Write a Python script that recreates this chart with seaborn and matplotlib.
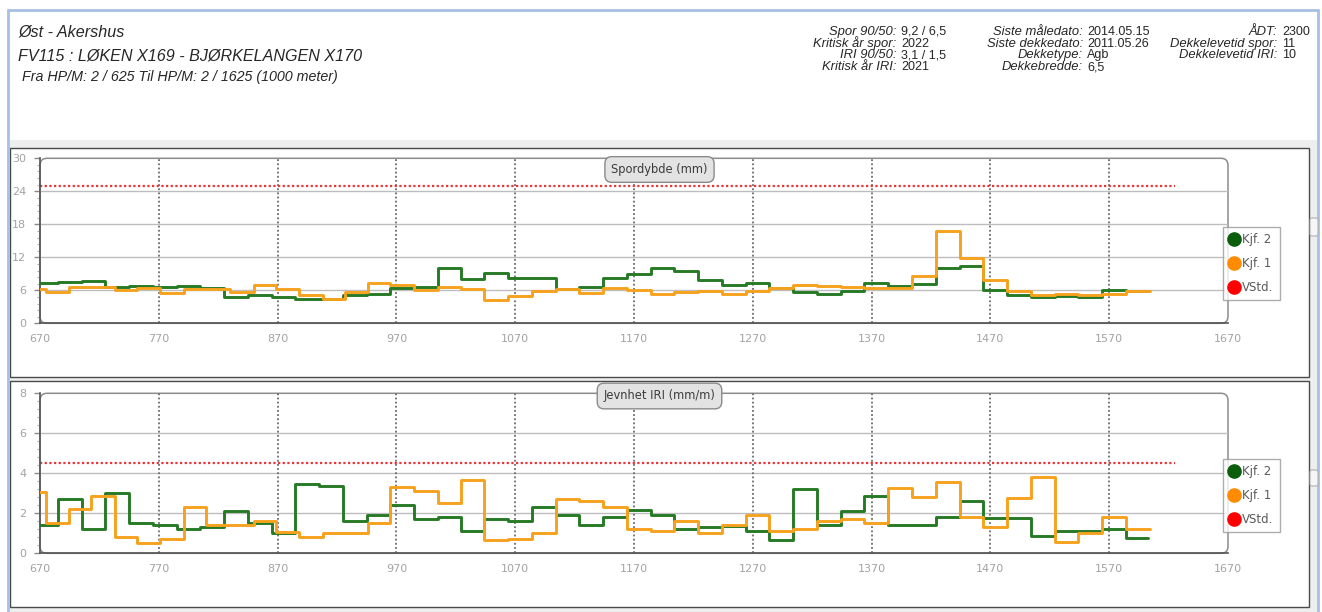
import numpy as np
import pandas as pd
import matplotlib
matplotlib.use("Agg")
import matplotlib.pyplot as plt
from matplotlib.patches import FancyBboxPatch, Rectangle
from matplotlib.lines import Line2D
from matplotlib.ticker import AutoMinorLocator, FixedLocator
import seaborn as sns

# ---------------------------------------------------------------- data
# start position (m) of each measured segment, per run, and where the run ends
pos_kjf2 = [670, 685, 705, 725, 745, 765, 785, 805, 825, 845, 865, 885, 905, 925,
            945, 965, 985, 1005, 1024, 1044, 1064, 1084, 1104, 1124, 1144, 1164,
            1184, 1204, 1224, 1244, 1264, 1284, 1304, 1324, 1344, 1364, 1384, 1404,
            1424, 1444, 1464, 1484, 1504, 1524, 1544, 1564, 1584]
end_kjf2 = 1603
pos_kjf1 = [670, 675, 694, 713, 733, 752, 771, 791, 810, 830, 850, 869, 888, 908,
            927, 946, 965, 985, 1005, 1024, 1044, 1064, 1084, 1104, 1124, 1144,
            1164, 1184, 1204, 1224, 1244, 1264, 1284, 1304, 1324, 1344, 1364, 1384,
            1404, 1424, 1444, 1464, 1484, 1504, 1524, 1544, 1564, 1584]
end_kjf1 = 1604

# rut depth (mm)
spor_kjf2 = [7.33, 7.55, 7.72, 6.65, 6.8, 6.6, 6.8, 6.4, 4.85, 5.12, 4.85, 4.33, 4.5,
             5.12, 5.35, 6.38, 6.55, 10.1, 8.08, 9.12, 8.28, 8.28, 6.2, 6.6, 8.28, 9.03,
             10.0, 9.45, 7.85, 6.88, 7.35, 6.4, 5.75, 5.35, 5.88, 7.3, 6.7, 7.2, 9.98,
             10.4, 6.1, 5.18, 4.82, 5.0, 4.82, 6.0, 5.8]
spor_kjf1 = [6.25, 5.76, 6.6, 6.6, 6.05, 6.35, 5.45, 6.3, 6.3, 5.76, 6.95, 6.25, 5.15,
             4.35, 5.75, 7.3, 7.0, 6.05, 6.6, 6.2, 4.25, 5.0, 5.85, 6.25, 5.6, 6.35,
             6.05, 5.35, 5.65, 5.85, 5.3, 5.9, 6.45, 7.0, 6.85, 6.65, 6.35, 6.5, 8.55,
             16.7, 11.9, 7.9, 5.85, 5.15, 5.35, 5.1, 5.3, 5.9]

# roughness IRI (mm/m)
iri_kjf2 = [1.4, 2.73, 1.2, 3.04, 1.52, 1.4, 1.2, 1.3, 2.12, 1.52, 1.0, 3.45, 3.35,
            1.6, 1.92, 2.44, 1.72, 1.82, 1.11, 1.72, 1.62, 2.32, 1.92, 1.41, 1.82,
            2.15, 1.9, 1.23, 1.33, 1.36, 1.11, 0.65, 3.23, 1.41, 2.12, 2.86, 1.42,
            1.42, 1.83, 2.63, 1.75, 1.75, 0.88, 1.12, 1.12, 1.23, 0.75]
iri_kjf1 = [3.05, 1.5, 2.2, 2.85, 0.82, 0.52, 0.73, 2.3, 1.4, 1.4, 1.6, 1.08, 0.82,
            1.0, 1.0, 1.5, 3.33, 3.12, 2.52, 3.65, 0.65, 0.73, 1.0, 2.74, 2.62, 2.32,
            1.2, 1.11, 1.62, 1.0, 1.41, 1.92, 1.11, 1.23, 1.62, 1.74, 1.53, 3.25,
            2.83, 3.55, 1.83, 1.33, 2.75, 3.83, 0.55, 1.0, 1.83, 1.23]

# threshold values (VStd.) and the stretch they cover
vstd_spor = 25.0
vstd_iri = 4.5
vstd_span = [670, 1625]

x_ticks = [670, 770, 870, 970, 1070, 1170, 1270, 1370, 1470, 1570, 1670]
spor_ticks = [0, 6, 12, 18, 24, 30]
iri_ticks = [0, 2, 4, 6, 8]

runs = ["Kjf. 2", "Kjf. 1"]
run_colors = {"Kjf. 2": "#267a26", "Kjf. 1": "#f6a21e"}
legend_colors = {"Kjf. 2": "#0b5e0b", "Kjf. 1": "#ff8c00", "VStd.": "#ff0000"}

header_left = ["Øst - Akershus",
               "FV115 : LØKEN X169 - BJØRKELANGEN X170",
               "Fra HP/M: 2 / 625 Til HP/M: 2 / 1625 (1000 meter)"]
info_col1 = [("Spor 90/50:", "9,2 / 6,5"), ("Kritisk år spor:", "2022"),
             ("IRI 90/50:", "3,1 / 1,5"), ("Kritisk år IRI:", "2021")]
info_col2 = [("Siste måledato:", "2014.05.15"), ("Siste dekkedato:", "2011.05.26"),
             ("Dekketype:", "Agb"), ("Dekkebredde:", "6,5")]
info_col3 = [("ÅDT:", "2300"), ("Dekkelevetid spor:", "11"),
             ("Dekkelevetid IRI:", "10")]


def step_frame(pos, end, values, run):
    return pd.DataFrame({"pos": list(pos) + [end],
                         "value": list(values) + [values[-1]],
                         "run": run})


spor_df = pd.concat([step_frame(pos_kjf2, end_kjf2, spor_kjf2, "Kjf. 2"),
                     step_frame(pos_kjf1, end_kjf1, spor_kjf1, "Kjf. 1")])
iri_df = pd.concat([step_frame(pos_kjf2, end_kjf2, iri_kjf2, "Kjf. 2"),
                    step_frame(pos_kjf1, end_kjf1, iri_kjf1, "Kjf. 1")])

# ---------------------------------------------------------------- figure
sns.set_style("white")
W, H, DPI = 1322, 612, 100
fig = plt.figure(figsize=(W / DPI, H / DPI), dpi=DPI)
fig.patch.set_facecolor("white")
inch = fig.dpi_scale_trans


def px_box(x0, y0, x1, y1):
    """pixel box (top-left origin) -> (x, y, w, h) in inches from bottom-left"""
    return x0 / DPI, (H - y1) / DPI, (x1 - x0) / DPI, (y1 - y0) / DPI


def add_rect(x0, y0, x1, y1, **kw):
    x, y, w, h = px_box(x0, y0, x1, y1)
    r = Rectangle((x, y), w, h, transform=inch, **kw)
    fig.add_artist(r)
    return r


def add_line(xs, ys, **kw):
    fig.add_artist(Line2D([v / DPI for v in xs], [(H - v) / DPI for v in ys],
                          transform=inch, **kw))


# page background and panel frames
add_rect(8, 140, 1318, 612, facecolor="#eeeeee", edgecolor="none", zorder=-5)
add_rect(10, 148, 1309, 377, facecolor="white", edgecolor="#4a4a4a", lw=1.0, zorder=-4)
add_rect(10, 381, 1309, 607, facecolor="white", edgecolor="#4a4a4a", lw=1.0, zorder=-4)
add_line([8, 8], [10, 612], color="#a8c0e2", lw=2.0, zorder=-3)
add_line([8, 1318], [10, 10], color="#a8c0e2", lw=2.0, zorder=-3)
add_line([1318, 1318], [10, 612], color="#a8c0e2", lw=2.0, zorder=-3)
for ys in [(218, 236), (470, 486)]:
    x, y, w, h = px_box(1310, ys[0], 1318, ys[1])
    fig.add_artist(FancyBboxPatch((x, y), w, h, boxstyle="round,pad=0,rounding_size=0.02",
                                  transform=inch, fc="#f6f6f6", ec="#b0b0b0", lw=0.8,
                                  zorder=-3))

# header
hfont = dict(family="Liberation Sans", style="italic", color="#262626")
fig.text(18 / W, 1 - 36.7 / H, header_left[0], fontsize=11.6, va="baseline", **hfont)
fig.text(18 / W, 1 - 60.5 / H, header_left[1], fontsize=11.6, va="baseline", **hfont)
fig.text(22 / W, 1 - 81.5 / H, header_left[2], fontsize=10.3, va="baseline", **hfont)

row_base = [35, 46.7, 58.3, 70]
for col, (lab_x, val_x) in zip([info_col1, info_col2, info_col3],
                               [(896, 901), (1083, 1087), (1277, 1282)]):
    for (lab, val), yb in zip(col, row_base):
        fig.text(lab_x / W, 1 - yb / H, lab, ha="right", va="baseline", fontsize=9.4,
                 family="Liberation Sans", style="italic", color="#262626")
        fig.text(val_x / W, 1 - yb / H, val, ha="left", va="baseline", fontsize=9.0,
                 family="Liberation Sans", color="#262626")


# ---------------------------------------------------------------- charts
def draw_chart(top_px, bottom_px, data, yticks, vstd, title, title_xy, legend_top):
    x0, x1 = 40, 1228
    ax = fig.add_axes([x0 / W, 1 - bottom_px / H, (x1 - x0) / W, (bottom_px - top_px) / H])
    ax.set_facecolor("none")
    ax.set_xlim(x_ticks[0], x_ticks[-1])
    ax.set_ylim(yticks[0], yticks[-1])

    # rounded plot frame
    x, y, w, h = px_box(x0, top_px, x1, bottom_px)
    fig.add_artist(FancyBboxPatch((x, y), w, h, boxstyle="round,pad=0,rounding_size=0.07",
                                  transform=inch, fc="none", ec="#8c8c8c", lw=1.1,
                                  zorder=-1))

    for yv in yticks[1:-1]:
        ax.axhline(yv, color="#bdbdbd", lw=1.0, zorder=1)
    for xv in x_ticks[1:-1]:
        ax.axvline(xv, color="#6a6a6a", lw=1.3, ls=(0, (1, 1.3)), zorder=1)

    ax.plot(vstd_span, [vstd, vstd], color="#e8353a", lw=1.6, ls=(0, (1, 1.1)), zorder=2)

    sns.lineplot(data=data, x="pos", y="value", hue="run", hue_order=runs,
                 palette=run_colors, drawstyle="steps-post", estimator=None, sort=False,
                 lw=2.1, legend=False, ax=ax, zorder=3)
    ax.set_xlabel("")
    ax.set_ylabel("")

    for s in ["top", "right"]:
        ax.spines[s].set_visible(False)
    for s in ["left", "bottom"]:
        ax.spines[s].set_color("#555555")
        ax.spines[s].set_linewidth(1.2)

    ax.xaxis.set_major_locator(FixedLocator(x_ticks))
    ax.yaxis.set_major_locator(FixedLocator(yticks))
    ax.yaxis.set_minor_locator(AutoMinorLocator(5))
    ax.tick_params(axis="x", length=0, pad=8, labelsize=8, labelcolor="#a3a3a3")
    ax.tick_params(axis="y", which="major", length=4, width=1, color="#8a8a8a",
                   pad=6, labelsize=8, labelcolor="#a3a3a3", left=True)
    ax.tick_params(axis="y", which="minor", length=2.5, width=0.8, color="#b0b0b0",
                   left=True)
    for lbl in ax.get_xticklabels() + ax.get_yticklabels():
        lbl.set_family("DejaVu Sans")

    fig.text(title_xy[0] / W, 1 - title_xy[1] / H, title, ha="center", va="center",
             fontsize=8.3, color="#3c3c3c", family="DejaVu Sans",
             bbox=dict(boxstyle="round,pad=0.55,rounding_size=0.6", fc="#e3e3e3",
                       ec="#8a8a8a", lw=1.0))

    handles = [Line2D([], [], marker="o", ls="none", markersize=9.5,
                      color=legend_colors[k]) for k in ["Kjf. 2", "Kjf. 1", "VStd."]]
    leg = ax.legend(handles, ["Kjf. 2", "Kjf. 1", "VStd."], loc="upper left",
                    bbox_to_anchor=(1223 / W, 1 - legend_top / H),
                    bbox_transform=fig.transFigure, frameon=True, fancybox=False,
                    fontsize=8.5, labelcolor="#5a5a5a", handlelength=0.7,
                    handletextpad=0.35, labelspacing=0.9, borderpad=0.55,
                    borderaxespad=0)
    leg.get_frame().set_edgecolor("#9a9a9a")
    leg.get_frame().set_linewidth(1.0)
    leg.get_frame().set_facecolor("white")
    leg.set_zorder(10)
    return ax


draw_chart(158.3, 323.3, spor_df, spor_ticks, vstd_spor, "Spordybde (mm)",
           (659.5, 169.5), 227)
draw_chart(393.3, 553.3, iri_df, iri_ticks, vstd_iri, "Jevnhet IRI (mm/m)",
           (659.5, 396), 459)

fig.savefig("out.png", dpi=DPI, facecolor=fig.get_facecolor())
